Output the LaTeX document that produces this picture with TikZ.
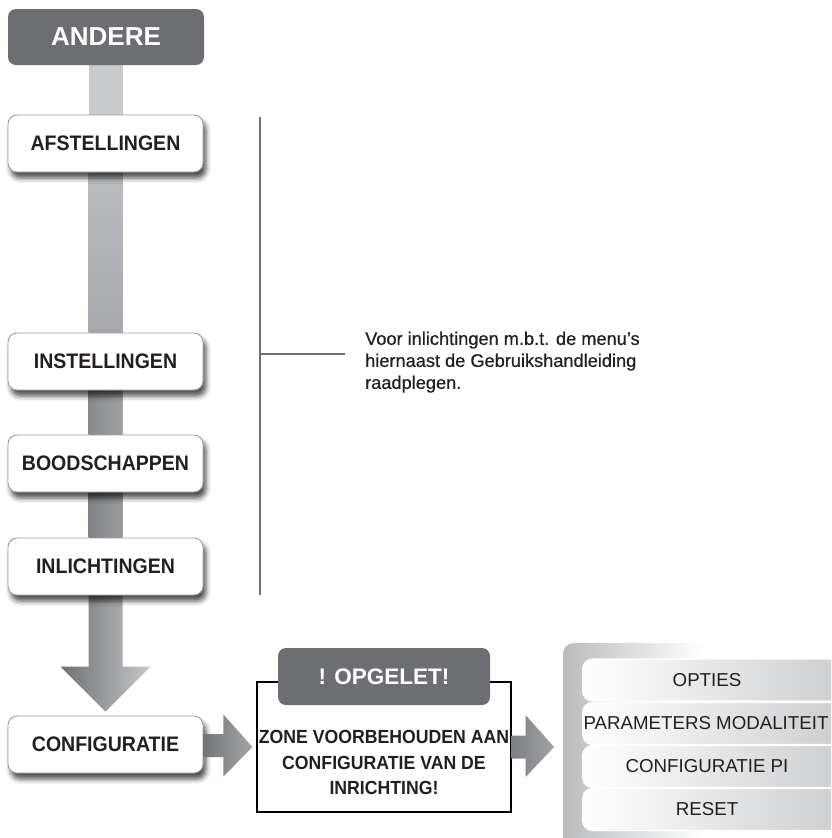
\documentclass[tikz,border=0pt]{standalone}
\usepackage{fontspec}
\setmainfont{Liberation Sans}
\newfontfamily\labelfont[FakeStretch=0.93]{Liberation Sans}
\newfontfamily\notefont[FakeBold=0.6]{Liberation Sans}
\usetikzlibrary{calc,backgrounds,shadows.blur}

\definecolor{darkbox}{HTML}{6D6E71}
\definecolor{labeltext}{HTML}{231F20}
\definecolor{boxedge}{HTML}{9C9EA1}
\definecolor{panelgray}{HTML}{B9BBBD}
\definecolor{itemgray}{HTML}{C8CACC}
\definecolor{linegray}{HTML}{6D6E71}

% side panel: gray at the left edge, fading to white half way across
\pgfdeclarehorizontalshading{panelfade}{100bp}{color(0bp)=(panelgray); color(25bp)=(panelgray); color(50bp)=(white); color(100bp)=(white)}
% menu items: white at the left, light gray towards the right
\pgfdeclarehorizontalshading{itemfade}{100bp}{color(0bp)=(white); color(25bp)=(white); color(75bp)=(itemgray); color(100bp)=(itemgray)}

\begin{document}
\begin{tikzpicture}[x=1pt,y=-1pt,
  menubox/.style={draw=boxedge, line width=0.9pt, fill=white, rounded corners=9pt,
    minimum width=195pt, minimum height=57pt, inner sep=0pt, text=labeltext,
    font=\labelfont\bfseries\fontsize{21}{24}\selectfont,
    blur shadow={shadow xshift=3pt, shadow yshift=-6pt, shadow blur radius=5pt, shadow opacity=70}},
  headbox/.style={fill=darkbox, rounded corners=8pt, inner sep=0pt, text=white},
  itembar/.style={shading=itemfade, rounded corners=10pt, draw=white, line width=1.2pt,
    minimum width=280pt, minimum height=42pt, inner sep=0pt},
  itemtext/.style={text=labeltext, inner sep=0pt, font=\fontsize{18.7}{22}\selectfont},
  guide/.style={draw=linegray, line width=2.5pt}]

\useasboundingbox (0,0) rectangle (831,838);
\clip (0,0) rectangle (831,838);

% main menu column
\node[headbox, minimum width=196pt, minimum height=56pt,
      font=\bfseries\fontsize{26}{30}\selectfont] (andere) at (106,37) {ANDERE};
\node[menubox] (afst) at (105.5,143.5) {AFSTELLINGEN};
\node[menubox] (inst) at (105.5,361.5) {INSTELLINGEN};
\node[menubox] (bood) at (105.5,463.5) {BOODSCHAPPEN};
\node[menubox] (inl)  at (105.5,566.5) {INLICHTINGEN};
\node[menubox] (cfg)  at (105.5,744.5) {CONFIGURATIE};

% connecting bars behind the menu boxes
\begin{scope}[on background layer]
  \fill[color={rgb,255:red,201;green,202;blue,204}]
    ($(andere.south)+(-17,0)$) rectangle ($(afst.north)+(17,0)$);
  \shade[top color={rgb,255:red,187;green,189;blue,191}, bottom color={rgb,255:red,166;green,168;blue,171}]
    ($(afst.south)+(-17,0)$) rectangle ($(inst.north)+(17,0)$);
  \shade[left color={rgb,255:red,136;green,137;blue,140}, right color={rgb,255:red,160;green,162;blue,164}]
    ($(inst.south)+(-17,0)$) rectangle ($(bood.north)+(17,0)$);
  \shade[left color={rgb,255:red,128;green,129;blue,132}, right color={rgb,255:red,154;green,156;blue,158}]
    ($(bood.south)+(-17,0)$) rectangle ($(inl.north)+(17,0)$);
  % down arrow into CONFIGURATIE
  \shade[left color={rgb,255:red,111;green,112;blue,115}, right color={rgb,255:red,198;green,199;blue,201}]
    ($(inl.south)+(-17,0)$) -- ($(cfg.north)+(-17,-49)$) -- ($(cfg.north)+(-45,-49)$)
    -- ($(cfg.north)+(0,-4)$) -- ($(cfg.north)+(45,-49)$) -- ($(cfg.north)+(17,-49)$)
    -- ($(inl.south)+(17,0)$) -- cycle;
\end{scope}

% guide line and note
\coordinate (vtop) at (260,117);
\coordinate (vbot) at (260,595);
\coordinate (vmid) at (260,354);
\coordinate (vend) at (345,354);
\draw[guide] (vtop) -- (vbot);
\draw[guide, line width=2pt] (vmid) -- (vend);
\node[anchor=north west, inner sep=0pt, align=left, text=labeltext,
      font=\notefont\fontsize{18.2}{22}\selectfont] (note) at (365,331.5)
  {Voor inlichtingen m.b.t. de menu’s\\hiernaast de Gebruikshandleiding\\raadplegen.};

% warning block
\node[draw=black, line width=1.1pt, minimum width=254pt, minimum height=130pt, inner sep=0pt]
  (warn) at (384,747) {};
\node[headbox, minimum width=212pt, minimum height=57pt,
      font=\bfseries\fontsize{22.5}{26}\selectfont] (opg) at (384,676.5) {! OPGELET!};
\node[align=center, inner sep=0pt, text=labeltext,
      font=\labelfont\bfseries\fontsize{19}{25.5}\selectfont] (zone) at (384,762.5)
  {ZONE VOORBEHOUDEN AAN\\CONFIGURATIE VAN DE\\INRICHTING!};

% arrow CONFIGURATIE -> warning block
\shade[left color={rgb,255:red,115;green,116;blue,119}, right color={rgb,255:red,163;green,165;blue,167}]
  ($(cfg.east)+(0,-10.5)$) -- ($(cfg.east)+(20,-10.5)$) -- ($(cfg.east)+(20,-30)$)
  -- ($(warn.west)+(-4,0)$) -- ($(cfg.east)+(20,32)$) -- ($(cfg.east)+(20,12.5)$)
  -- ($(cfg.east)+(0,12.5)$) -- cycle;

% option panel
\node[shading=panelfade, rounded corners=10pt, minimum width=280pt, minimum height=210pt,
      inner sep=0pt, anchor=north west] (panel) at (563,643) {};

% arrow warning block -> option panel
\shade[left color={rgb,255:red,125;green,127;blue,130}, right color={rgb,255:red,160;green,162;blue,164}]
  ($(warn.east)+(0,-11.5)$) -- ($(warn.east)+(14,-11.5)$) -- ($(warn.east)+(14,-32)$)
  -- ($(panel.west |- warn.east)+(-9,0)$) -- ($(warn.east)+(14,30)$) -- ($(warn.east)+(14,11.5)$)
  -- ($(warn.east)+(0,11.5)$) -- cycle;

% option items
\node[itembar, anchor=west] (optbar) at (582,680) {};
\node[itembar, anchor=west] (parbar) at (582,723.5) {};
\node[itembar, anchor=west] (cpibar) at (582,766.5) {};
\node[itembar, anchor=west] (rstbar) at (582,809.5) {};
\node[itemtext] (opt) at (707,680)   {OPTIES};
\node[itemtext] (par) at (706,723.5) {PARAMETERS MODALITEIT};
\node[itemtext] (cpi) at (707,766.5) {CONFIGURATIE PI};
\node[itemtext] (rst) at (707,809.5) {RESET};

\end{tikzpicture}
\end{document}
